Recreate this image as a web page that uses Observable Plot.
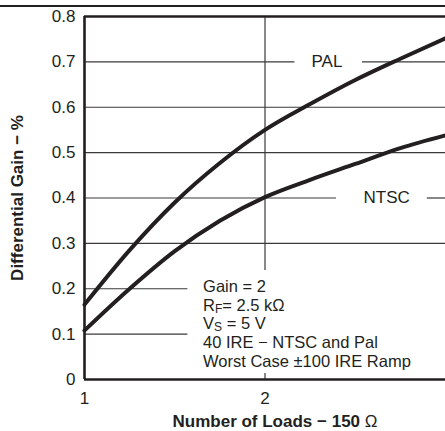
<!DOCTYPE html>
<html><head><meta charset="utf-8">
<script src="https://cdn.jsdelivr.net/npm/d3@7"></script>
<script src="https://cdn.jsdelivr.net/npm/@observablehq/plot@0.6"></script>
<style>
body{margin:0;background:#fff;}
#wrap{position:relative;width:445px;height:431px;overflow:hidden;}
#topline{position:absolute;left:0;top:5px;width:445px;height:1.5px;background:#231f20;}
</style></head><body><div id="wrap"><div id="topline"></div></div>
<script>
// Data
const loads    = [1, 1.25, 1.5, 1.75, 2, 2.25, 2.5, 2.75, 3];
const palGain  = [0.165, 0.285, 0.39, 0.477, 0.55, 0.607, 0.66, 0.707, 0.752];
const ntscGain = [0.108, 0.2, 0.283, 0.35, 0.402, 0.44, 0.475, 0.51, 0.538];
const yTicks = [0, 0.1, 0.2, 0.3, 0.4, 0.5, 0.6, 0.7, 0.8];
const xTicks = [1, 2];
const seriesNames = ["PAL", "NTSC"];
const annotationLines = ["Gain = 2", "R_F= 2.5 kΩ", "V_S = 5 V", "40 IRE − NTSC and Pal", "Worst Case ±100 IRE Ramp"];
const xTitle = "Number of Loads − 150 Ω";
const yTitle = "Differential Gain − %";

// Series label anchors (data units) and gridline segments broken around labels
const labelAnchors = [{name: seriesNames[0], x: 2.343, y: 0.7}, {name: seriesNames[1], x: 2.674, y: 0.4}];
const hGrid = [
  {y: 0.1, x1: 1, x2: 1.573}, {y: 0.2, x1: 1, x2: 1.573},
  {y: 0.3, x1: 1, x2: 3},
  {y: 0.4, x1: 1, x2: 2.396}, {y: 0.4, x1: 2.899, x2: 3},
  {y: 0.5, x1: 1, x2: 3}, {y: 0.6, x1: 1, x2: 3},
  {y: 0.7, x1: 1, x2: 2.166}, {y: 0.7, x1: 2.54, x2: 3}
];
const vGrid = [{x: 2, y1: 0.24, y2: 0.8}, {x: 2, y1: 0, y2: 0.013}];
const annotationAnchor = {x: 1.657, y: 0.222};

const rows = [];
loads.forEach((l, i) => {
  rows.push({series: "PAL", loads: l, gain: palGain[i]});
  rows.push({series: "NTSC", loads: l, gain: ntscGain[i]});
});

const ink = "#231f20";
const plot = Plot.plot({
  width: 445, height: 431,
  marginLeft: 84, marginRight: 0, marginTop: 16, marginBottom: 52,
  style: {fontFamily: "'Liberation Sans', Arial, sans-serif", fontSize: "17px", color: ink, background: "transparent"},
  x: {domain: [1, 3]},
  y: {domain: [0, 0.8]},
  marks: [
    Plot.ruleY(hGrid, {y: "y", x1: "x1", x2: "x2", stroke: "#3a3a3a", strokeWidth: 1.2}),
    Plot.ruleX(vGrid, {x: "x", y1: "y1", y2: "y2", stroke: "#3a3a3a", strokeWidth: 1.2}),
    Plot.ruleX([1], {stroke: ink, strokeWidth: 2.6}),
    Plot.ruleY([0, 0.8], {stroke: ink, strokeWidth: 2.6}),
    Plot.line(rows, {x: "loads", y: "gain", z: "series", stroke: ink, strokeWidth: 4, curve: "monotone-x"}),
    Plot.axisY(yTicks, {tickSize: 0, tickPadding: 9, label: null, fontSize: 17, tickFormat: d => d === 0 ? "0" : d.toFixed(1)}),
    Plot.axisX(xTicks, {tickSize: 0, tickPadding: 12, label: null, fontSize: 17, tickFormat: d => String(d)}),
    Plot.text(labelAnchors, {x: "x", y: "y", text: "name", fontSize: 17, fill: ink}),
    Plot.text([annotationLines.join("\n")], {x: () => annotationAnchor.x, y: () => annotationAnchor.y, textAnchor: "start", lineAnchor: "top", lineHeight: 1.13, fontSize: 16.5, fill: ink}),
    Plot.text([xTitle], {frameAnchor: "bottom", dx: 10, dy: 47, fontWeight: "bold", fontSize: 17, fill: ink}),
    Plot.text([yTitle], {frameAnchor: "left", textAnchor: "middle", dx: -67, rotate: -90, fontWeight: "bold", fontSize: 17, fill: ink})
  ]
});

// Subscripts (R_F, V_S) and the regular-weight Ω in the x title
const ns = "http://www.w3.org/2000/svg";
plot.querySelectorAll("text, tspan").forEach(el => {
  if (el.children.length) return;
  const t = el.textContent;
  const m = t.match(/^(.*?)_(\w)(.*)$/);
  if (m) {
    el.textContent = "";
    const a = document.createElementNS(ns, "tspan"); a.textContent = m[1];
    const b = document.createElementNS(ns, "tspan"); b.textContent = m[2];
    b.setAttribute("dy", "2"); b.setAttribute("font-size", "12");
    const c = document.createElementNS(ns, "tspan"); c.textContent = m[3];
    c.setAttribute("dy", "-2");
    el.append(a, b, c);
  } else if (t === xTitle) {
    el.textContent = "";
    const a = document.createElementNS(ns, "tspan"); a.textContent = t.slice(0, -1);
    const b = document.createElementNS(ns, "tspan"); b.textContent = t.slice(-1);
    b.setAttribute("font-weight", "normal");
    el.append(a, b);
  }
});
document.getElementById("wrap").appendChild(plot);
</script></body></html>
